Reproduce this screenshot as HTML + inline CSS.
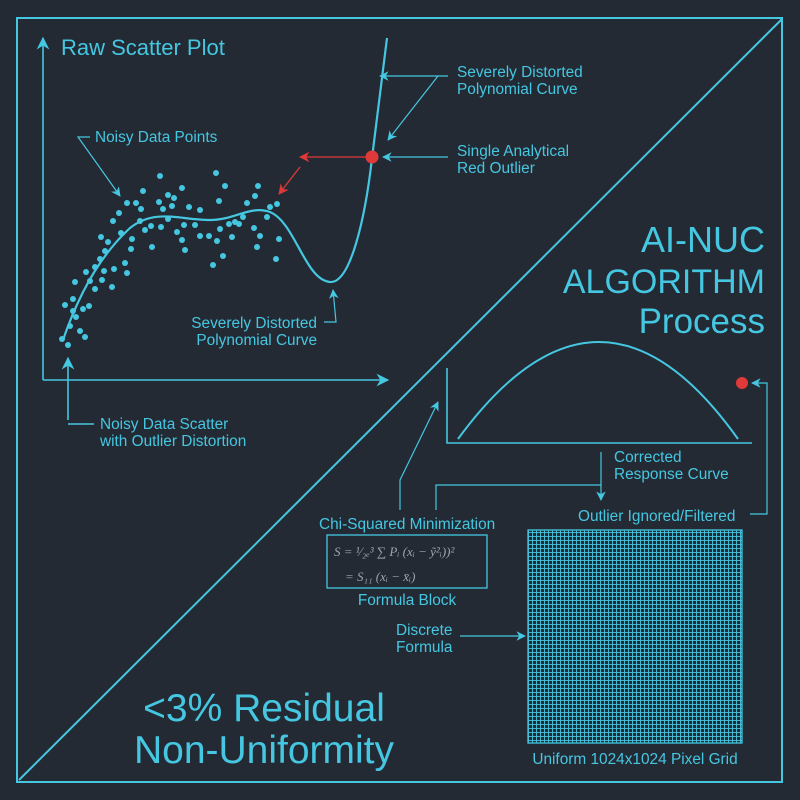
<!DOCTYPE html>
<html><head><meta charset="utf-8"><style>
html,body{margin:0;padding:0;background:#232a33;}
svg{display:block}
text{font-family:"Liberation Sans",sans-serif;fill:#45c7e2}
</style></head><body>
<svg width="800" height="800" viewBox="0 0 800 800" xmlns="http://www.w3.org/2000/svg">
<defs>
<marker id="a" viewBox="0 0 10 10" refX="9" refY="5" markerWidth="8" markerHeight="8" orient="auto-start-reverse"><path d="M0,0 L10,5 L0,10 L3,5 z" fill="#45c7e2"/></marker>
<marker id="r" viewBox="0 0 10 10" refX="9" refY="5" markerWidth="8" markerHeight="8" orient="auto"><path d="M0,0 L10,5 L0,10 L3,5 z" fill="#e0393a"/></marker>
<pattern id="g" width="4" height="4" patternUnits="userSpaceOnUse"><rect width="4" height="4" fill="#232a33"/><path d="M0,0 H4 M0,0 V4" stroke="#45c7e2" stroke-width="1.8"/></pattern>
</defs>
<rect width="800" height="800" fill="#232a33"/>
<g fill="none" stroke="#45c7e2" stroke-width="2">
<rect x="17" y="18" width="765" height="764"/>
<line x1="19" y1="780" x2="782" y2="19"/>
</g>
<g fill="none" stroke="#45c7e2" stroke-width="1.6">
<line x1="43" y1="380" x2="43" y2="38" marker-end="url(#a)"/>
<line x1="43" y1="380" x2="388" y2="380" marker-end="url(#a)"/>
<path d="M63,340 C75,305 95,260 130,228 C155,208 180,220 210,220 C235,220 250,205 270,212 C295,222 305,280 330,282 C350,284 365,220 372,158 L387,38" stroke-width="2.2"/>
<line x1="68" y1="420" x2="68" y2="358" marker-end="url(#a)"/>
<polyline points="94,424 68,424"/>
<polyline points="90,137 78,137 120,196" marker-end="url(#a)" stroke-width="1.2"/>
<polyline points="448,76 380,76" marker-end="url(#a)" stroke-width="1.2"/>
<polyline points="438,76 388,140" marker-end="url(#a)" stroke-width="1.2"/>
<polyline points="448,157 383,157" marker-end="url(#a)" stroke-width="1.2"/>
<polyline points="324,322 336,322 333,290" marker-end="url(#a)" stroke-width="1.2"/>
<polyline points="447,368 447,443 752,443"/>
<path d="M458,439 Q600,245 738,439" stroke-width="2"/>
<polyline points="601,452 601,500" marker-end="url(#a)" stroke-width="1.2"/>
<polyline points="436,510 436,485 601,485" stroke-width="1.2"/>
<polyline points="400,510 400,480 438,402" marker-end="url(#a)" stroke-width="1.2"/>
<polyline points="750,514 767,514 767,383 752,383" marker-end="url(#a)" stroke-width="1.2"/>
<polyline points="460,636 525,636" marker-end="url(#a)" stroke-width="1.2"/>
<rect x="327" y="535" width="160" height="53" stroke-width="1.3"/>
</g>
<g stroke="#e0393a" stroke-width="1.3" fill="none">
<line x1="368" y1="157" x2="300" y2="157" marker-end="url(#r)"/>
<line x1="300" y1="167" x2="279" y2="194" marker-end="url(#r)"/>
</g>
<circle cx="372" cy="157" r="6.5" fill="#e0393a"/>
<circle cx="742" cy="383" r="6" fill="#e0393a"/>
<g fill="#45c7e2">
<circle cx="160" cy="176" r="3"/><circle cx="216" cy="173" r="3"/><circle cx="143" cy="191" r="3"/><circle cx="182" cy="188" r="3"/><circle cx="225" cy="186" r="3"/><circle cx="258" cy="186" r="3"/><circle cx="127" cy="203" r="3"/><circle cx="136" cy="203" r="3"/><circle cx="159" cy="202" r="3"/><circle cx="168" cy="195" r="3"/><circle cx="174" cy="198" r="3"/><circle cx="219" cy="201" r="3"/><circle cx="255" cy="196" r="3"/><circle cx="277" cy="204" r="3"/><circle cx="270" cy="207" r="3"/><circle cx="247" cy="203" r="3"/><circle cx="119" cy="213" r="3"/><circle cx="141" cy="209" r="3"/><circle cx="163" cy="209" r="3"/><circle cx="172" cy="206" r="3"/><circle cx="189" cy="207" r="3"/><circle cx="200" cy="210" r="3"/><circle cx="113" cy="221" r="3"/><circle cx="140" cy="221" r="3"/><circle cx="145" cy="230" r="3"/><circle cx="151" cy="226" r="3"/><circle cx="161" cy="227" r="3"/><circle cx="168" cy="219" r="3"/><circle cx="177" cy="232" r="3"/><circle cx="184" cy="225" r="3"/><circle cx="195" cy="225" r="3"/><circle cx="200" cy="236" r="3"/><circle cx="209" cy="236" r="3"/><circle cx="217" cy="241" r="3"/><circle cx="220" cy="229" r="3"/><circle cx="229" cy="224" r="3"/><circle cx="232" cy="237" r="3"/><circle cx="235" cy="222" r="3"/><circle cx="239" cy="224" r="3"/><circle cx="243" cy="217" r="3"/><circle cx="254" cy="228" r="3"/><circle cx="260" cy="236" r="3"/><circle cx="257" cy="247" r="3"/><circle cx="267" cy="217" r="3"/><circle cx="279" cy="239" r="3"/><circle cx="276" cy="259" r="3"/><circle cx="121" cy="233" r="3"/><circle cx="132" cy="239" r="3"/><circle cx="131" cy="249" r="3"/><circle cx="152" cy="247" r="3"/><circle cx="182" cy="240" r="3"/><circle cx="185" cy="250" r="3"/><circle cx="223" cy="256" r="3"/><circle cx="213" cy="265" r="3"/><circle cx="101" cy="237" r="3"/><circle cx="108" cy="242" r="3"/><circle cx="105" cy="251" r="3"/><circle cx="100" cy="259" r="3"/><circle cx="95" cy="267" r="3"/><circle cx="86" cy="272" r="3"/><circle cx="104" cy="271" r="3"/><circle cx="114" cy="269" r="3"/><circle cx="125" cy="263" r="3"/><circle cx="127" cy="273" r="3"/><circle cx="102" cy="280" r="3"/><circle cx="90" cy="281" r="3"/><circle cx="112" cy="287" r="3"/><circle cx="95" cy="289" r="3"/><circle cx="75" cy="282" r="3"/><circle cx="73" cy="299" r="3"/><circle cx="65" cy="305" r="3"/><circle cx="73" cy="311" r="3"/><circle cx="83" cy="309" r="3"/><circle cx="89" cy="306" r="3"/><circle cx="76" cy="317" r="3"/><circle cx="70" cy="326" r="3"/><circle cx="80" cy="331" r="3"/><circle cx="85" cy="337" r="3"/><circle cx="62" cy="339" r="3"/><circle cx="68" cy="345" r="3"/>
</g>
<rect x="528" y="530" width="214" height="213" fill="url(#g)" stroke="#45c7e2" stroke-width="1.3"/>
<text x="61" y="55" font-size="22">Raw Scatter Plot</text>
<text x="95" y="142" font-size="15.4">Noisy Data Points</text>
<text x="457" y="77" font-size="15.4">Severely Distorted</text>
<text x="457" y="94" font-size="15.4">Polynomial Curve</text>
<text x="457" y="156" font-size="15.4">Single Analytical</text>
<text x="457" y="173" font-size="15.4">Red Outlier</text>
<text x="317" y="328" font-size="15.4" text-anchor="end">Severely Distorted</text>
<text x="317" y="345" font-size="15.4" text-anchor="end">Polynomial Curve</text>
<text x="100" y="429" font-size="15.4">Noisy Data Scatter</text>
<text x="100" y="446" font-size="15.4">with Outlier Distortion</text>
<text x="765" y="252" font-size="36" text-anchor="end">AI-NUC</text>
<text x="765" y="293" font-size="34" text-anchor="end">ALGORITHM</text>
<text x="765" y="333" font-size="35" text-anchor="end">Process</text>
<text x="614" y="462" font-size="15.4">Corrected</text>
<text x="614" y="479" font-size="15.4">Response Curve</text>
<text x="578" y="521" font-size="15.4">Outlier Ignored/Filtered</text>
<text x="319" y="529" font-size="15.4">Chi-Squared Minimization</text>
<text x="334" y="556" font-size="13" style="font-family:'Liberation Serif',serif;font-style:italic;fill:#9aa6ae">S = ¹⁄₂ₑ³ ∑ Pᵢ (xᵢ − ỹ²ᵢ))²</text>
<text x="345" y="581" font-size="13" style="font-family:'Liberation Serif',serif;font-style:italic;fill:#9aa6ae">= S₁₁ (xᵢ − x̄ᵢ)</text>
<text x="407" y="605" font-size="15.4" text-anchor="middle">Formula Block</text>
<text x="396" y="635" font-size="15.4">Discrete</text>
<text x="396" y="652" font-size="15.4">Formula</text>
<text x="635" y="764" font-size="15.4" text-anchor="middle">Uniform 1024x1024 Pixel Grid</text>
<text x="264" y="721" font-size="39" text-anchor="middle">&lt;3% Residual</text>
<text x="264" y="763" font-size="39" text-anchor="middle">Non-Uniformity</text>
</svg>
</body></html>
